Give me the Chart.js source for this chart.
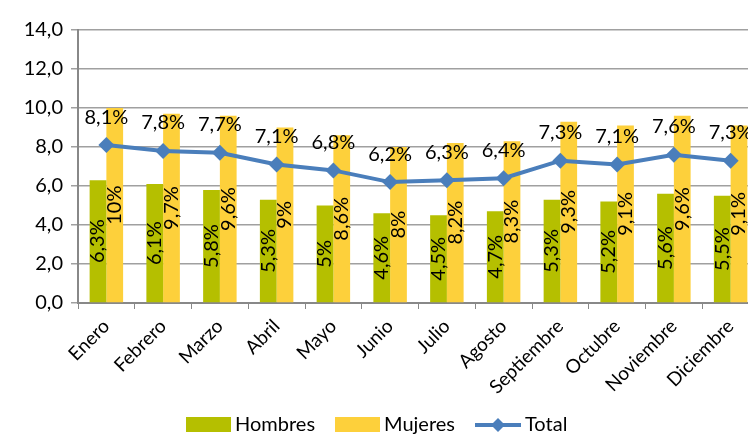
<!DOCTYPE html>
<html>
<head>
<meta charset="utf-8">
<script src="https://cdn.jsdelivr.net/npm/chart.js@4.4.0/dist/chart.umd.min.js"></script>
<style>
  html, body { margin: 0; padding: 0; background: #fff; overflow: hidden; }
  #wrap { width: 767px; height: 434px; position: relative; }
</style>
</head>
<body>
<div id="wrap"><canvas id="chart"></canvas></div>
<script>
const months = ['Enero', 'Febrero', 'Marzo', 'Abril', 'Mayo', 'Junio', 'Julio',
  'Agosto', 'Septiembre', 'Octubre', 'Noviembre', 'Diciembre'];
const hombres = [6.3, 6.1, 5.8, 5.3, 5, 4.6, 4.5, 4.7, 5.3, 5.2, 5.6, 5.5];
const mujeres = [10, 9.7, 9.6, 9, 8.6, 8, 8.2, 8.3, 9.3, 9.1, 9.6, 9.1];
const total = [8.1, 7.8, 7.7, 7.1, 6.8, 6.2, 6.3, 6.4, 7.3, 7.1, 7.6, 7.3];
const yMin = 0, yMax = 14, yStep = 2;

const FONT = 'Lato, "Open Sans", sans-serif';
const green = '#b5bf00';
const yellow = '#fdd03b';
const blue = '#4a7ebb';

function pct(v) {
  return String(v).replace('.', ',') + '%';
}

// data labels: rotated + centered in bars, above points for the line
const labelPlugin = {
  id: 'valueLabels',
  afterDatasetsDraw(chart) {
    const ctx = chart.ctx;
    ctx.save();
    ctx.fillStyle = '#000';
    ctx.font = '20px ' + FONT;
    ctx.textAlign = 'center';
    ctx.textBaseline = 'middle';
    chart.data.datasets.forEach((ds, di) => {
      const meta = chart.getDatasetMeta(di);
      meta.data.forEach((el, i) => {
        const txt = pct(ds.data[i]);
        if (ds.type === 'line') {
          ctx.fillText(txt, el.x, el.y - 28);
        } else {
          const cy = (el.y + el.base) / 2;
          ctx.save();
          ctx.translate(el.x, cy);
          ctx.rotate(-Math.PI / 2);
          ctx.fillText(txt, 0, 0);
          ctx.restore();
        }
      });
    });
    ctx.restore();
  }
};

// excel style legend at the bottom
const legendPlugin = {
  id: 'bottomLegend',
  afterDraw(chart) {
    const ctx = chart.ctx;
    const y = 425;
    ctx.save();
    ctx.font = '20px ' + FONT;
    ctx.fillStyle = '#000';
    ctx.textBaseline = 'middle';
    ctx.textAlign = 'left';

    ctx.fillStyle = green;
    ctx.fillRect(186, y - 8, 45, 15);
    ctx.fillStyle = '#000';
    ctx.fillText('Hombres', 235, y);

    ctx.fillStyle = yellow;
    ctx.fillRect(335, y - 8, 45, 15);
    ctx.fillStyle = '#000';
    ctx.fillText('Mujeres', 384, y);

    ctx.strokeStyle = blue;
    ctx.lineWidth = 4;
    ctx.beginPath();
    ctx.moveTo(475, y);
    ctx.lineTo(521, y);
    ctx.stroke();
    ctx.fillStyle = blue;
    ctx.beginPath();
    ctx.moveTo(498, y - 7);
    ctx.lineTo(505, y);
    ctx.lineTo(498, y + 7);
    ctx.lineTo(491, y);
    ctx.closePath();
    ctx.fill();
    ctx.fillStyle = '#000';
    ctx.fillText('Total', 525, y);
    ctx.restore();
  }
};

new Chart(document.getElementById('chart'), {
  data: {
    labels: months,
    datasets: [
      {
        type: 'line',
        label: 'Total',
        data: total,
        borderColor: blue,
        backgroundColor: blue,
        borderWidth: 4,
        pointStyle: 'rectRot',
        pointRadius: 8,
        pointBackgroundColor: blue,
        pointBorderWidth: 0,
        tension: 0,
        order: 0
      },
      {
        type: 'bar',
        label: 'Hombres',
        data: hombres,
        backgroundColor: green,
        categoryPercentage: 0.59,
        barPercentage: 1,
        order: 1
      },
      {
        type: 'bar',
        label: 'Mujeres',
        data: mujeres,
        backgroundColor: yellow,
        categoryPercentage: 0.59,
        barPercentage: 1,
        order: 2
      }
    ]
  },
  options: {
    responsive: true,
    maintainAspectRatio: false,
    animation: false,
    layout: { padding: { top: 30, right: 0, bottom: 0, left: 0 } },
    plugins: {
      legend: { display: false },
      tooltip: { enabled: false }
    },
    scales: {
      x: {
        offset: true,
        grid: {
          offset: true,
          drawOnChartArea: false,
          color: '#888',
          tickLength: 6
        },
        border: { color: '#888', width: 2 },
        ticks: {
          minRotation: 45,
          maxRotation: 45,
          color: '#000',
          padding: 6,
          font: { family: FONT, size: 19 }
        },
        afterFit(scale) { scale.height = 131; }
      },
      y: {
        min: yMin,
        max: yMax,
        grid: {
          color: '#a0a0a0',
          lineWidth: 1.5,
          tickLength: 7
        },
        border: { color: '#888', width: 2 },
        ticks: {
          stepSize: yStep,
          color: '#000',
          padding: 8,
          font: { family: FONT, size: 20 },
          callback: v => v.toFixed(1).replace('.', ',')
        },
        afterFit(scale) { scale.width = 78; }
      }
    }
  },
  plugins: [labelPlugin, legendPlugin]
});
</script>
</body>
</html>
